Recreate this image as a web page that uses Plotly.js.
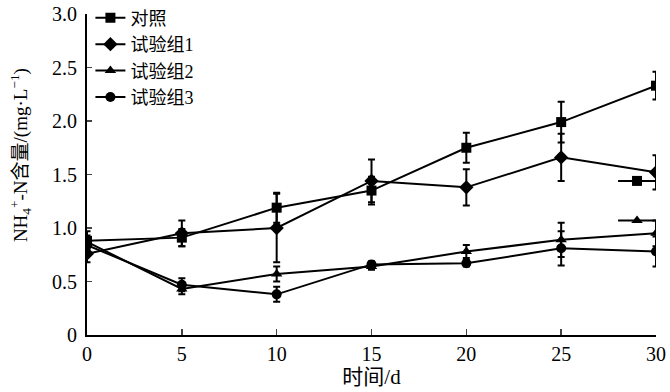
<!DOCTYPE html>
<html><head><meta charset="utf-8">
<script src="https://cdn.plot.ly/plotly-3.0.1.min.js"></script>
<style>body{margin:0;background:#fff}#chart{width:670px;height:392px}</style>
</head><body><div id="chart"></div>
<script>
const days = [0, 5, 10, 15, 20, 25, 30];
const seriesNames = ['对照', '试验组1', '试验组2', '试验组3'];
const control = [0.88, 0.91, 1.19, 1.35, 1.75, 1.99, 2.33];
const controlErr = [0.05, 0.08, 0.14, 0.13, 0.14, 0.19, 0.13];
const group1 = [0.76, 0.95, 1.00, 1.44, 1.38, 1.66, 1.52];
const group1Err = [0.08, 0.12, 0.32, 0.20, 0.17, 0.22, 0.16];
const group2 = [0.87, 0.43, 0.57, 0.64, 0.78, 0.89, 0.95];
const group2Err = [0.10, 0.05, 0.07, 0.03, 0.06, 0.16, 0.12];
const group3 = [0.84, 0.47, 0.38, 0.66, 0.67, 0.81, 0.78];
const group3Err = [0.04, 0.06, 0.07, 0.03, 0.03, 0.16, 0.14];
// stray legend-like marks in the original figure
const strayLineX = [28, 30];
const strayMarkX = [29];
const straySquareY = 1.44;
const strayTriangleY = 1.07;
const yTickVals = [0, 0.5, 1, 1.5, 2, 2.5, 3];
const yTickText = ['0', '0.5', '1.0', '1.5', '2.0', '2.5', '3.0'];

const symbols = ['square', 'diamond', 'triangle-up', 'circle'];
const sizes = [10, 11, 10, 10];
const vals = [control, group1, group2, group3];
const errs = [controlErr, group1Err, group2Err, group3Err];

const traces = vals.map((v, i) => ({
  x: days, y: v, name: seriesNames[i], type: 'scatter', mode: 'lines+markers',
  line: {color: '#000', width: 2},
  marker: {symbol: symbols[i], size: sizes[i], color: '#000', line: {width: 0}},
  error_y: {type: 'data', array: errs[i], visible: true, color: '#000', thickness: 2, width: 3.5}
}));
[[straySquareY, 'square'], [strayTriangleY, 'triangle-up']].forEach(([yv, sym]) => {
  traces.push({x: strayLineX, y: strayLineX.map(() => yv), mode: 'lines', showlegend: false,
    line: {color: '#000', width: 2}});
  traces.push({x: strayMarkX, y: strayMarkX.map(() => yv), mode: 'markers', showlegend: false,
    marker: {symbol: sym, size: 10, color: '#000', line: {width: 0}}});
});

const fontFam = 'Liberation Serif, Noto Sans CJK SC, serif';
const layout = {
  width: 670, height: 392,
  margin: {l: 87, r: 14, t: 14, b: 57, autoexpand: false},
  paper_bgcolor: '#fff', plot_bgcolor: '#fff',
  font: {family: fontFam, color: '#000', size: 20},
  showlegend: true,
  legend: {x: 0.006, y: 1.045, xanchor: 'left', yanchor: 'top', bgcolor: 'rgba(0,0,0,0)',
    font: {size: 18, family: fontFam, color: '#000'}, tracegroupgap: 0, itemwidth: 30},
  xaxis: {range: [0, 30], tickvals: days, ticks: 'inside', ticklen: 6, tickwidth: 1.5,
    showline: true, linewidth: 2, linecolor: '#000', showgrid: false, zeroline: false,
    tickfont: {size: 20}, title: {text: '时间/d', font: {size: 21, color: '#000'}, standoff: 3}},
  yaxis: {range: [0, 3], tickvals: yTickVals, ticktext: yTickText,
    ticks: 'inside', ticklen: 5, tickwidth: 1.5, ticklabelstandoff: 4,
    showline: true, linewidth: 2, linecolor: '#000', showgrid: false, zeroline: false,
    tickfont: {size: 20}},
  annotations: [{
    text: 'NH<sub>4</sub><sup>+</sup>-N含量/(mg·L<sup>−1</sup>)', textangle: -90,
    xref: 'paper', yref: 'paper', x: -0.118, y: 0.56, xanchor: 'center', yanchor: 'middle',
    showarrow: false, font: {size: 19, color: '#000', family: fontFam}
  }]
};
Plotly.newPlot('chart', traces, layout, {displayModeBar: false, staticPlot: true});
</script></body></html>
